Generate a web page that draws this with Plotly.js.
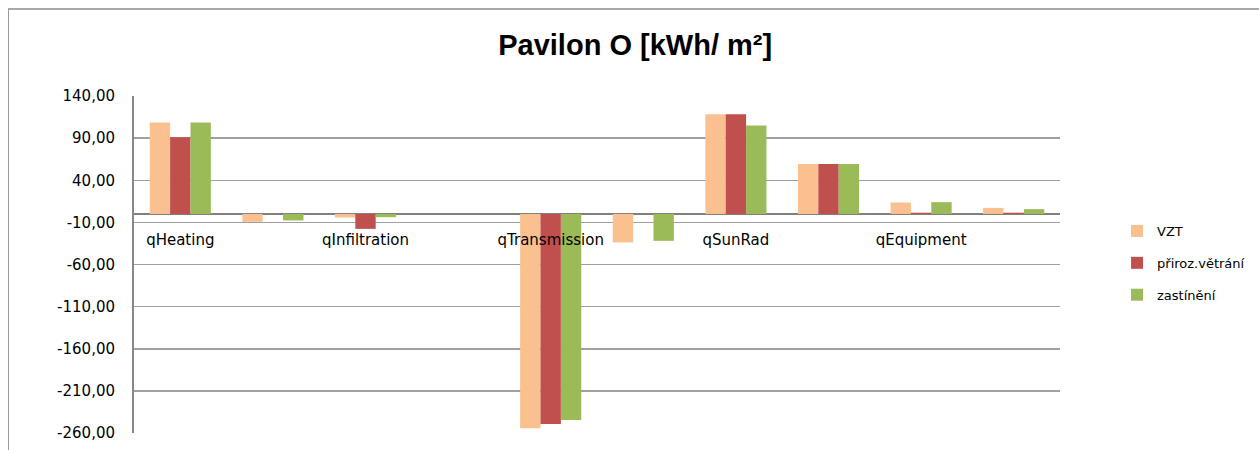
<!DOCTYPE html>
<html>
<head>
<meta charset="utf-8">
<script src="https://cdn.plot.ly/plotly-3.0.1.min.js"></script>
<style>
  html, body { margin: 0; padding: 0; background: #fff; }
  #frame { position: absolute; left: 8px; top: 8px; width: 1251px; height: 442px;
           border-left: 1px solid #9a9a9a; border-top: 2px solid #a8a8a8; box-sizing: border-box; pointer-events: none; z-index: 2; }
  #chart { position: absolute; left: 0; top: 0; width: 1259px; height: 450px; }
</style>
</head>
<body>
<div id="chart"></div>
<div id="frame"></div>
<script>
// Categories (every other label is hidden in the original, as Excel does)
const categories = ['qHeating', 'qCooling', 'qInfiltration', 'qVentilation', 'qTransmission',
                    'qWindows', 'qSunRad', 'qOccupants', 'qEquipment', 'qLighting'];
const shownLabels = ['qHeating', 'qInfiltration', 'qTransmission', 'qSunRad', 'qEquipment'];

const seriesNames = ['VZT', 'přiroz.větrání', 'zastínění'];
const vzt       = [108.5, -9.4, -4.2, 0, -254.4, -33.8, 118.3, 59.4, 13.6, 7.2];
const prirozVetrani = [91.1, 0, -17.7, 0, -249.3, 0, 118.3, 59.4, 1.5, 1.5];
const zastineni = [108.5, -7.7, -3.8, 0, -244.5, -31.9, 105.0, 59.4, 14.0, 5.7];
const seriesColors = ['#FAC090', '#C0504D', '#9BBB59'];

const yTickVals = [140, 90, 40, -10, -60, -110, -160, -210, -260];
const yTickText = ['140,00', '90,00', '40,00', '-10,00', '-60,00', '-110,00', '-160,00', '-210,00', '-260,00'];

const allSeries = [vzt, prirozVetrani, zastineni];
const traces = allSeries.map((vals, i) => ({
  type: 'bar',
  name: seriesNames[i],
  x: categories,
  y: vals,
  marker: { color: seriesColors[i], line: { width: 0 } },
  legendgroup: 'g' + i,
  hoverinfo: 'x+y+name'
}));

const layout = {
  width: 1259,
  height: 450,
  margin: { l: 134, r: 199, t: 96, b: 17, pad: 0, autoexpand: false },
  paper_bgcolor: '#ffffff',
  plot_bgcolor: '#ffffff',
  font: { family: 'DejaVu Sans, sans-serif', size: 15, color: '#000' },
  title: {
    text: 'Pavilon O [kWh/ m²]',
    font: { family: 'Liberation Sans, Arial, sans-serif', size: 29, color: '#000', weight: 'bold' },
    x: 0.5045, xref: 'container', xanchor: 'center',
    y: 0.9, yref: 'container', yanchor: 'middle',
    automargin: false
  },
  barmode: 'group',
  bargap: 0.34,
  bargroupgap: 0,
  showlegend: true,
  legend: {
    x: 1.0616, xanchor: 'left',
    y: 0.644, yanchor: 'top',
    traceorder: 'grouped',
    tracegroupgap: 12,
    font: { family: 'DejaVu Sans, sans-serif', size: 13, color: '#000' },
    bgcolor: 'rgba(0,0,0,0)',
    borderwidth: 0
  },
  xaxis: {
    type: 'category',
    categoryorder: 'array',
    categoryarray: categories,
    tickmode: 'array',
    tickvals: shownLabels,
    ticktext: shownLabels,
    anchor: 'free',
    position: 0.65,
    showgrid: false,
    showline: false,
    zeroline: false,
    ticks: '',
    ticklabelstandoff: 15,
    tickfont: { family: 'DejaVu Sans, sans-serif', size: 15, color: '#000' },
    fixedrange: true
  },
  yaxis: {
    range: [-260, 140],
    tickmode: 'array',
    tickvals: yTickVals,
    ticktext: yTickText,
    showgrid: true,
    gridcolor: '#a0a0a0',
    gridwidth: 1.5,
    zeroline: true,
    zerolinecolor: '#808080',
    zerolinewidth: 2.5,
    showline: true,
    linecolor: '#888888',
    linewidth: 2,
    ticks: '',
    ticklabelstandoff: 14,
    tickfont: { family: 'DejaVu Sans, sans-serif', size: 15, color: '#000' },
    fixedrange: true
  }
};

Plotly.newPlot('chart', traces, layout, { displayModeBar: false, staticPlot: true });
</script>
</body>
</html>
